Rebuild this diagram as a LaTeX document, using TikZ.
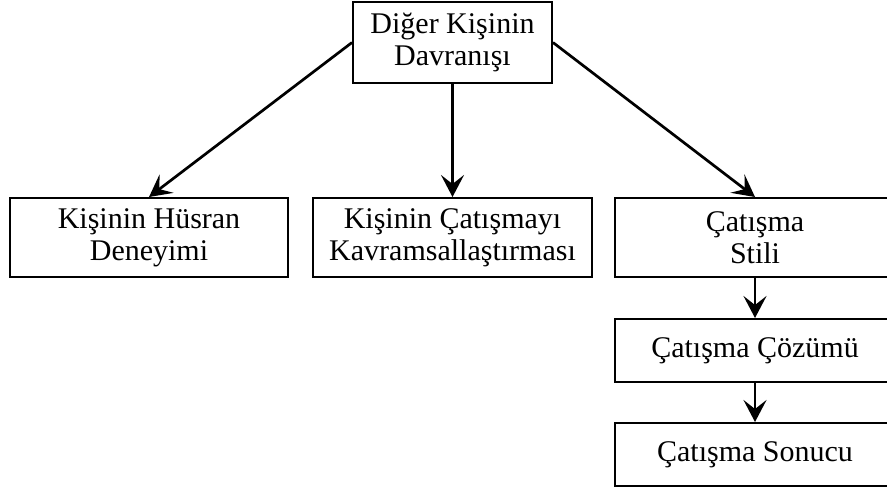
\documentclass[tikz,border=0pt]{standalone}
\usepackage{fontspec}
\setmainfont{Liberation Serif}
\usetikzlibrary{arrows.meta}

\begin{document}
\begin{tikzpicture}[x=0.5pt,y=-0.5pt,
        kutu/.style={rectangle, draw, line width=1pt, align=center, inner sep=0pt,
            minimum width=140pt, minimum height=39.5pt,
            font=\fontsize{15}{16}\selectfont},
        ok/.style={-{Stealth[length=11pt,width=11.5pt,inset=4.5pt]}, line width=1.35pt}]
    \useasboundingbox (0,0) rectangle (887,489);
    \clip (0,0) rectangle (887,489);
    % top
    \node[kutu, minimum width=99.5pt, minimum height=40.5pt] (davranis) at (452.5,42.5) {Diğer Kişinin\\Davranışı};
    % second row
    \node[kutu, minimum width=139pt] (husran) at (149,237.5) {Kişinin Hüsran\\Deneyimi};
    \node[kutu, minimum width=139.5pt] (kavram) at (452.5,237.5) {Kişinin Çatışmayı\\Kavramsallaştırması};
    \node[kutu] (stil) at (755,237.5) {Çatışma\\Stili};
    % right column
    \node[kutu, minimum height=31.5pt] (cozum) at (755,350.5) {Çatışma Çözümü};
    \node[kutu, minimum height=31.5pt] (sonuc) at (755,454.5) {Çatışma Sonucu};
    % arrows
    \draw[ok] (davranis.west) -- (husran.north);
    \draw[ok] (davranis.south) -- (kavram.north);
    \draw[ok] (davranis.east) -- (stil.north);
    \draw[ok] (stil) -- (cozum);
    \draw[ok] (cozum) -- (sonuc);
\end{tikzpicture}
\end{document}
